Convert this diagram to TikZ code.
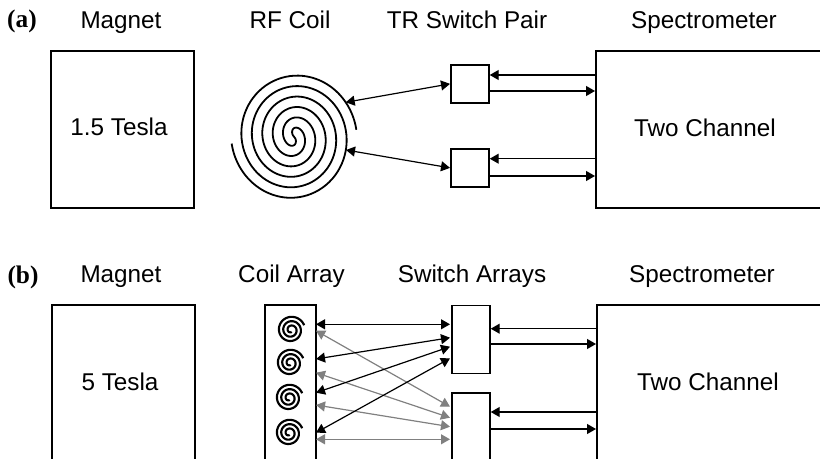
\documentclass[tikz,border=0pt]{standalone}
\usepackage{fontspec}
\setmainfont{Liberation Sans}
\newfontfamily\tagfont{Liberation Serif}
\usetikzlibrary{arrows.meta}

\tikzset{
    panel/.style={draw, line width=1.3pt, inner sep=0pt, anchor=north west},
    title/.style={font=\fontsize{18.2}{20}\selectfont, inner sep=0pt, anchor=base},
    tag/.style={font=\fontsize{19}{20}\selectfont\tagfont\bfseries, inner sep=0pt, anchor=base},
    link/.style={line width=0.9pt, -{Triangle[length=6.75pt, width=7.5pt]}},
    bilink/.style={line width=0.9pt, {Triangle[length=6.75pt, width=7.5pt]}-{Triangle[length=6.75pt, width=7.5pt]}},
    coilline/.style={line width=1.35pt, line join=round},
    smallcoil/.style={line width=1.6pt, line join=round}
}

\begin{document}
\begin{tikzpicture}[x=0.75pt, y=-0.75pt]
    \clip (0, 0) rectangle (820, 459);

    % Row (a)
    \node[tag] (taga) at (22, 27.7) {(a)};
    \node[title] (maga) at (121, 28.3) {Magnet};
    \node[title] (rfcoil) at (290, 28.3) {RF Coil};
    \node[title] (trpair) at (467, 28.3) {TR Switch Pair};
    \node[title] (speca) at (704, 28.3) {Spectrometer};

    \node[panel, minimum width=107.25pt, minimum height=117.75pt] (boxmaga) at (50, 50.5) {};
    \node[title] (tesa) at (119, 136) {1.5 Tesla};
    \node[panel, minimum width=28.5pt, minimum height=28.5pt] (swa1) at (450, 64) {};
    \node[panel, minimum width=28.5pt, minimum height=28.5pt] (swa2) at (450, 148) {};
    \node[panel, minimum width=225pt, minimum height=117.75pt] (boxspeca) at (595, 50.5) {};
    \node[title] (twoa) at (705, 136.5) {Two Channel};

    % The big coil, two arms
    \draw[coilline, shift={(294, 136.7)}]
        plot[domain=6:1060, samples=240, smooth] ({(63.05-0.05833*\x)*cos(\x)}, {-(66.25-0.05833*\x)*sin(\x)})
        -- plot[domain=1060:6, samples=240, smooth] ({-(63.05-0.05833*\x)*cos(\x)}, {(66.25-0.05833*\x)*sin(\x)});

    \coordinate (coila1) at (345.7, 102.3);
    \coordinate (coila2) at (346, 150);
    \draw[bilink] (coila1) -- (swa1.west);
    \draw[bilink] (coila2) -- (swa2.west);

    \foreach \n/\yin/\yout in {swa1/75/91, swa2/158.7/176} {
        \coordinate (in) at (0, \yin);
        \coordinate (out) at (0, \yout);
        \draw[link] (boxspeca.west |- in) -- (\n.east |- in);
        \draw[link] (\n.east |- out) -- (boxspeca.west |- out);
    }

    % Row (b)
    \node[tag] (tagb) at (23, 284) {(b)};
    \node[title] (magb) at (121, 282.5) {Magnet};
    \node[title] (coilarr) at (291.5, 282.5) {Coil Array};
    \node[title] (swarr) at (472, 282.5) {Switch Arrays};
    \node[title] (specb) at (702, 282.5) {Spectrometer};

    \node[panel, minimum width=107.25pt, minimum height=150pt] (boxmagb) at (51, 304) {};
    \node[title] (tesb) at (120, 390.7) {5 Tesla};
    \node[panel, minimum width=38.25pt, minimum height=150pt] (boxarr) at (264, 304) {};
    \node[panel, minimum width=28.5pt, minimum height=51pt] (swb1) at (451, 304.7) {};
    \node[panel, minimum width=28.5pt, minimum height=100pt] (swb2) at (451, 392) {};
    \node[panel, minimum width=225pt, minimum height=150pt] (boxspecb) at (596, 304) {};
    \node[title] (twob) at (708, 390.7) {Two Channel};

    % The small coils
    \foreach \cx/\cy in {291/330, 290/363, 289/398, 289/433} {
        \draw[smallcoil, shift={(\cx, \cy)}]
            plot[domain=20:1010, samples=160, smooth] ({(14.24-0.0121*\x)*cos(\x)}, {-(14.24-0.0121*\x)*sin(\x)});
    }

    % Ports on the array and on the switches
    \foreach \n/\ya/\yb in {1/324.3/324.3, 2/359/337.7, 3/392.7/346.7, 4/432.7/358.3,
                            5/330.7/406.7, 6/372.7/417.7, 7/405/426.7, 8/439.3/439.3} {
        \coordinate (arr\n) at (316, \ya);
        \coordinate (sw\n) at (450, \yb);
    }

    \foreach \n in {5, 6, 7, 8} \draw[bilink, gray] (arr\n) -- (sw\n);
    \foreach \n in {1, 2, 3, 4} \draw[bilink] (arr\n) -- (sw\n);

    \foreach \n/\yin/\yout in {swb1/328.7/344, swb2/412/429} {
        \coordinate (in) at (0, \yin);
        \coordinate (out) at (0, \yout);
        \draw[link] (boxspecb.west |- in) -- (\n.east |- in);
        \draw[link] (\n.east |- out) -- (boxspecb.west |- out);
    }
\end{tikzpicture}
\end{document}
